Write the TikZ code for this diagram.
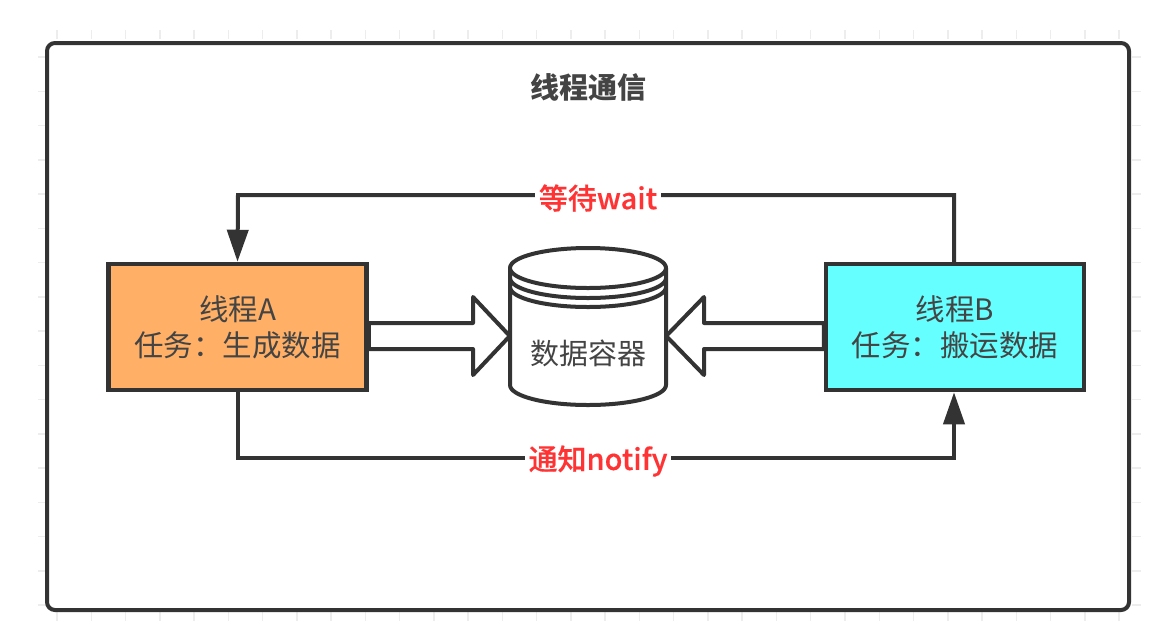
\documentclass[tikz,border=0pt]{standalone}
\usepackage{fontspec}
\setmainfont{Noto Sans CJK SC}
\newfontfamily\medfont[FakeBold=0.4]{Noto Sans CJK SC Medium}
\usetikzlibrary{arrows.meta}
\definecolor{ink}{HTML}{333333}
\definecolor{word}{HTML}{444444}
\definecolor{alert}{HTML}{FF3333}
\definecolor{orangefill}{HTML}{FFB066}
\definecolor{cyanfill}{HTML}{66FFFF}
\tikzset{
    wire/.style = {draw=ink, line width=4pt},
    thread/.style = {wire, line width=4.5pt, minimum width=258pt, minimum height=126pt, inner sep=0pt, align=center, text=word, font=\fontsize{29.5}{36}\selectfont},
    link/.style = {wire, -{Triangle[length=32pt, width=21pt, fill=ink]}},
    hollow/.style = {wire, line join=round, fill=white},
    note/.style = {fill=white, inner sep=4pt, text=alert, font=\fontsize{29}{34}\medfont},
    tick/.style = {draw=black!7, line width=1.5pt}
}
\begin{document}
\begin{tikzpicture}[x=1pt, y=-1pt]
    \useasboundingbox (0, 0) rectangle (1161, 625);

    \foreach \k in {0,...,31} {
        \draw[tick] ({57+34.26*\k}, 30) -- ++(0, 9);
        \draw[tick] ({57+34.26*\k}, 612) -- ++(0, 9);
    }
    \foreach \k in {0,...,16} {
        \draw[tick] (38, {57+34.26*\k}) -- ++(8, 0);
        \draw[tick] (1132, {57+34.26*\k}) -- ++(9, 0);
    }

    \node[wire, rounded corners=8pt, minimum width=1082pt, minimum height=567pt, inner sep=0pt] (frame) at (588, 326.5) {};
    \node[text=word, font=\fontsize{29}{34}\selectfont\bfseries] (title) at (588, 87) {线程通信};

    \node[thread, fill=orangefill] (threadA) at (237.5, 327) {线程A\\任务：生成数据};
    \node[thread, fill=cyanfill] (threadB) at (955, 327) {线程B\\任务：搬运数据};
    \node[minimum width=156pt, minimum height=157pt, inner sep=0pt] (drum) at (588, 327) {};

    \coordinate (waitturn) at (238, 195);
    \coordinate (notifyturn) at (954, 458);
    \draw[link] ([xshift=-1pt]threadB.north) |- (waitturn) -- (threadA.north);
    \draw[link] (threadA.south) |- (notifyturn) -- ([xshift=-1pt]threadB.south);
    \node[note] (waitnote) at (598, 198) {等待wait};
    \node[note] (notifynote) at (598, 461) {通知notify};

    \draw[hollow] (510, 268) -- (510, 385) arc (180:0:78 and 20) -- (666, 268) -- cycle;
    \draw[hollow] (510, 268) arc (180:540:78 and 20);
    \draw[wire] (510, 278) arc (180:0:78 and 20);
    \draw[wire] (510, 287) arc (180:0:78 and 20);
    \node[text=word, font=\fontsize{29}{34}\selectfont] (drumtext) at (588, 353) {数据容器};

    \draw[hollow] ([yshift=4pt]threadA.east) -- (473, 323) -- (473, 297) -- ([yshift=-9pt]drum.west) -- (473, 375) -- (473, 349) -- ([yshift=-22pt]threadA.east) -- cycle;
    \draw[hollow] ([yshift=4pt]threadB.west) -- (704, 323) -- (704, 297) -- ([yshift=-9pt]drum.east) -- (704, 375) -- (704, 349) -- ([yshift=-22pt]threadB.west) -- cycle;
\end{tikzpicture}
\end{document}
